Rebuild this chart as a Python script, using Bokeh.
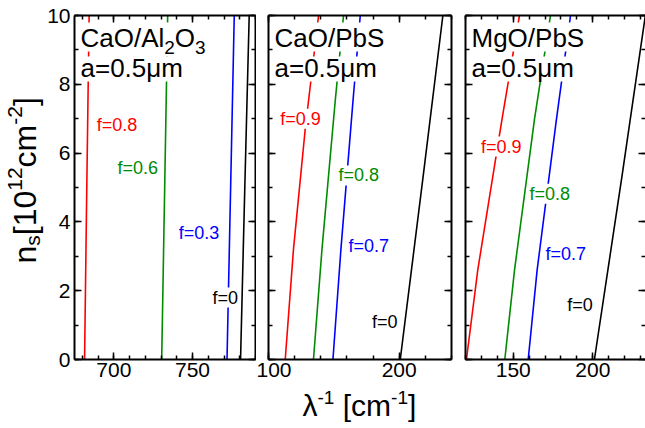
import math
from bokeh.plotting import figure
from bokeh.models import (Range1d, SingleIntervalTicker, LinearAxis, Label, BoxAnnotation,
                          CustomJSTickFormatter)
from bokeh.layouts import row, column
from bokeh.embed import file_html
from bokeh.resources import INLINE

# ---------------- data ----------------
# Panel 1: CaO/Al2O3, a=0.5um
cao_al_ns = [0, 5, 10]
cao_al_f08 = [681.4, 682.8, 684.3]
cao_al_f06 = [730.4, 732.3, 734.2]
cao_al_f03 = [771.9, 774.2, 776.5]
cao_al_f0 = [780.5, 783.2, 786.0]

# Panel 2: CaO/PbS, a=0.5um
cao_pbs_ns_f09 = [0, 3.2, 6.7, 10]
cao_pbs_f09 = [112.8, 119.1, 128.1, 138.3]
cao_pbs_ns_f08 = [0, 3.2, 7.5, 10]
cao_pbs_f08 = [134.4, 140.9, 151.0, 157.4]
cao_pbs_ns_f07 = [0, 3.2, 7.5, 10]
cao_pbs_f07 = [149.3, 155.4, 164.6, 170.2]
cao_pbs_ns_f0 = [0, 5.35, 10]
cao_pbs_f0 = [200.8, 218.4, 233.4]

# Panel 3: MgO/PbS, a=0.5um
mgo_pbs_ns = [0, 2.6, 7.0, 10]
mgo_pbs_f09 = [120.6, 127.7, 143.0, 153.9]
mgo_pbs_f08 = [144.7, 150.8, 163.4, 173.4]
mgo_pbs_f07 = [159.4, 165.0, 177.2, 186.0]
mgo_pbs_ns_f0 = [0, 5.35, 10]
mgo_pbs_f0 = [201.0, 218.4, 233.0]

f_names_1 = ["f=0.8", "f=0.6", "f=0.3", "f=0"]
f_names_23 = ["f=0.9", "f=0.8", "f=0.7", "f=0"]

# ---------------- styling / layout ----------------
FONT = "Liberation Sans"
RED, GREEN, BLUE, BLACK = "#ff0000", "#008b00", "#0000ff", "#000000"
COLORS = [RED, GREEN, BLUE, BLACK]
PAGE_H = 428
FRAME_H = 344
TOP = 15
BOTTOM = 27
PANEL_H = TOP + FRAME_H + BOTTOM          # 386
YLAB_W = 44
MID = 0.35  # offset from alphabetic baseline to text middle, in em

W = {'n': .556, 's': .5, '[': .278, ']': .278, '0': .556, '1': .556, '2': .556,
     '3': .556, '5': .556, 'c': .5, 'm': .833, '-': .333, ' ': .278, 'λ': .5,
     'C': .722, 'a': .556, 'O': .778, '/': .278, 'A': .667, 'l': .222, 'P': .667,
     'b': .556, 'S': .667, 'M': .833, 'g': .556, '=': .584, '.': .278, 'μ': .576}


def tw(t, size):
    return sum(W.get(c, .556) for c in t) * size


def add_rich(p, pieces, x0, y0, vertical=False):
    """pieces: (text, px size, baseline shift up); (x0, y0) = baseline start, screen units."""
    pos = 0.0
    for text, size, shift in pieces:
        while text.startswith(" "):
            pos += W[' '] * size
            text = text[1:]
        off = shift + MID * size
        if vertical:
            lab = Label(x=x0 - off, y=y0 + pos, angle=math.pi / 2)
        else:
            lab = Label(x=x0 + pos, y=y0 + off)
        lab.x_units = "screen"
        lab.y_units = "screen"
        lab.text = text
        lab.text_font = FONT
        lab.text_font_size = f"{size}px"
        lab.text_color = "black"
        lab.text_align = "left"
        lab.text_baseline = "middle"
        p.add_layout(lab)
        pos += tw(text, size)
    return pos


def make_panel(xr, xint, bl, br, fw, left_labels, right_line=True):
    p = figure(width=bl + fw + br, height=PANEL_H, title=None,
               x_range=Range1d(*xr), y_range=Range1d(0, 10),
               x_axis_type=None, y_axis_type=None,
               toolbar_location=None, output_backend="svg",
               min_border_left=bl, min_border_right=br,
               min_border_top=TOP, min_border_bottom=BOTTOM,
               background_fill_color="white", border_fill_color="white",
               outline_line_color=None)
    for loc in ["below", "above", "left", "right"]:
        if loc in ("below", "above"):
            ticker = SingleIntervalTicker(interval=xint, num_minor_ticks=5)
        else:
            ticker = SingleIntervalTicker(interval=2, num_minor_ticks=2)
        ax = LinearAxis(ticker=ticker)
        ax.major_tick_in = 7
        ax.major_tick_out = 0
        ax.minor_tick_in = 4
        ax.minor_tick_out = 0
        ax.major_tick_line_width = 1.5
        ax.minor_tick_line_width = 1.5
        ax.axis_line_width = 2
        ax.major_label_text_font = FONT
        show = (loc == "below") or (loc == "left" and left_labels)
        if show:
            ax.major_label_text_font_size = "21px"
            ax.major_label_standoff = 3 if loc == "below" else 4
            ax.major_label_text_color = "black"
        else:
            ax.formatter = CustomJSTickFormatter(code="return ''")
            ax.major_label_text_font_size = "1px"
            ax.major_label_standoff = 0
        if loc == "right" and not right_line:
            ax.axis_line_color = None
        ax.level = "overlay"
        p.add_layout(ax, loc)
    return p


def add_curves(p, xs_list, ns_list):
    for xs, ns, c in zip(xs_list, ns_list, COLORS):
        p.line(xs, ns, line_color=c, line_width=1.6)


def add_flabels(p, names, lx, ly):
    for name, x, y, c in zip(names, lx, ly, COLORS):
        p.add_layout(Label(x=x, y=y, text=name, text_font=FONT, text_font_size="18px",
                           text_color=c, text_align="left", text_baseline="middle",
                           background_fill_color="white"))


def white_box(p, left, right, top, bottom):
    p.add_layout(BoxAnnotation(left=left, right=right, top=top, bottom=bottom,
                               left_units="screen", right_units="screen",
                               top_units="screen", bottom_units="screen",
                               fill_color="white", fill_alpha=1, line_color=None))


def add_title(p, line1_pieces, plain_part=None):
    x0 = 6
    w1 = sum(tw(t, s) for t, s, _ in line1_pieces)
    w2 = tw("a=0.5μm", 26)
    if plain_part is None:
        white_box(p, 4, x0 + w1 + 2, FRAME_H - 7, FRAME_H - 36)
    else:
        wa = tw(plain_part, 26)
        white_box(p, 4, x0 + wa, FRAME_H - 7, FRAME_H - 36)
        white_box(p, x0 + wa, x0 + w1 + 2, FRAME_H - 7, FRAME_H - 41)
    white_box(p, 4, x0 + w2 + 2, FRAME_H - 41, FRAME_H - 66)
    add_rich(p, line1_pieces, x0, FRAME_H - 31.7)
    add_rich(p, [("a=0.5μm", 26, 0)], x0, FRAME_H - 62)


def blank_fig(w, h):
    return figure(width=w, height=h, title=None, x_range=Range1d(0, w), y_range=Range1d(0, h),
                  x_axis_type=None, y_axis_type=None, toolbar_location=None,
                  output_backend="svg", min_border_left=0, min_border_right=0,
                  min_border_top=0, min_border_bottom=0,
                  background_fill_color="white", border_fill_color="white",
                  outline_line_color=None)


# ---- panel 1 ----
p1 = make_panel((675, 790), 50, 72 - YLAB_W, 1, 183, True)
add_curves(p1, [cao_al_f08, cao_al_f06, cao_al_f03, cao_al_f0], [cao_al_ns] * 4)
add_flabels(p1, f_names_1, [689.1, 702.3, 741.3, 762.7], [6.83, 5.58, 3.69, 1.80])
add_title(p1, [("CaO/Al", 26, 0), ("2", 19, -7), ("O", 26, 0), ("3", 19, -7)], plain_part="CaO/Al")

# ---- panel 2 ----
p2 = make_panel((100, 240), 100, 12, 5, 183, False)
add_curves(p2, [cao_pbs_f09, cao_pbs_f08, cao_pbs_f07, cao_pbs_f0],
           [cao_pbs_ns_f09, cao_pbs_ns_f08, cao_pbs_ns_f07, cao_pbs_ns_f0])
add_flabels(p2, f_names_23, [109.0, 153.6, 161.2, 179.1], [7.0, 5.35, 3.31, 1.08])
add_title(p2, [("CaO/PbS", 26, 0)])

# ---- panel 3 ----
p3 = make_panel((120, 233.1), 50, 9, 0, 180, False, right_line=False)
add_curves(p3, [mgo_pbs_f09, mgo_pbs_f08, mgo_pbs_f07, mgo_pbs_f0],
           [mgo_pbs_ns, mgo_pbs_ns, mgo_pbs_ns, mgo_pbs_ns_f0])
add_flabels(p3, f_names_23, [129.8, 160.2, 170.3, 183.9], [6.19, 4.82, 3.07, 1.57])
add_title(p3, [("MgO/PbS", 26, 0)])

panels_w = p1.width + p2.width + p3.width

# ---- y axis title strip: n_s [10^12 cm^-2] ----
yfig = blank_fig(YLAB_W, PAGE_H)
add_rich(yfig, [("n", 32, 0), ("s", 21, -3), ("[", 32, 0), ("10", 32, 0), ("12", 21, 14),
                ("cm", 32, 0), ("-2", 21, 14), ("]", 32, 0)], 36, PAGE_H - 263, vertical=True)

# ---- x axis title strip: lambda^-1 [cm^-1] ----
xfig = blank_fig(panels_w, PAGE_H - PANEL_H)
add_rich(xfig, [("λ", 30, 0), ("-1", 19, 11), (" [cm", 30, 0), ("-1", 19, 11), ("]", 30, 0)],
         302 - YLAB_W, PAGE_H - 415)

layout = row(yfig, column(row(p1, p2, p3), xfig))
open("out.html", "w").write(file_html(layout, INLINE))
